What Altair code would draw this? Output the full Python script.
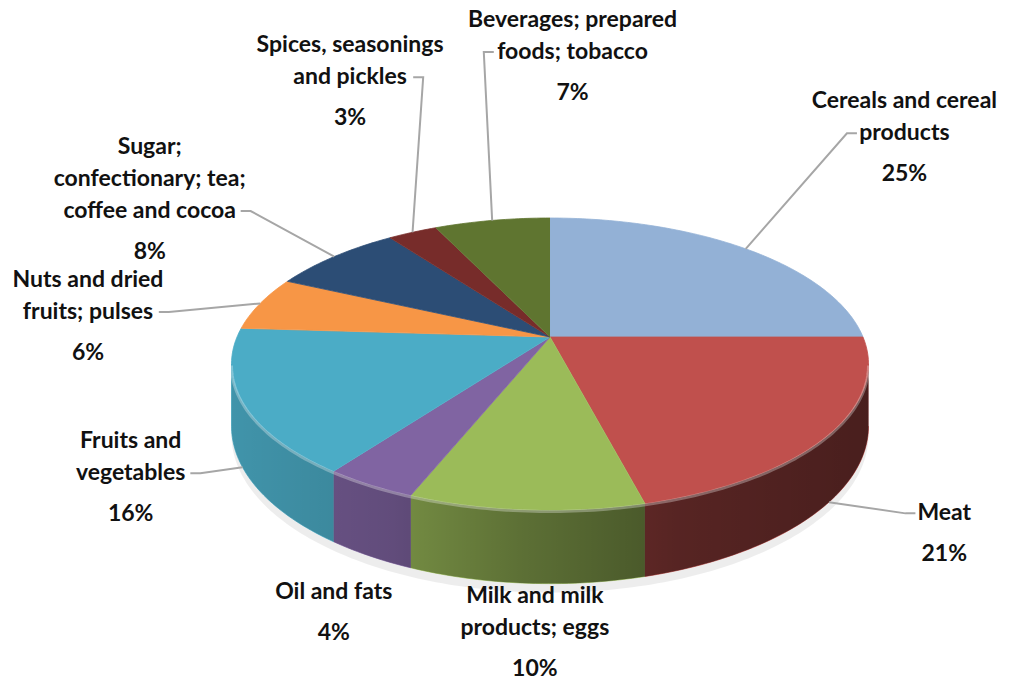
import math
import altair as alt
import pandas as pd

# ---------------- data ----------------
categories = [
    "Cereals and cereal products", "Meat", "Milk and milk products; eggs", "Oil and fats",
    "Fruits and vegetables", "Nuts and dried fruits; pulses",
    "Sugar; confectionary; tea; coffee and cocoa", "Spices, seasonings and pickles",
    "Beverages; prepared foods; tobacco",
]
label_lines = [
    ["Cereals and cereal", "products"], ["Meat"], ["Milk and milk", "products; eggs"],
    ["Oil and fats"], ["Fruits and", "vegetables"], ["Nuts and dried", "fruits; pulses"],
    ["Sugar;", "confectionary; tea;", "coffee and cocoa"], ["Spices, seasonings", "and pickles"],
    ["Beverages; prepared", "foods; tobacco"],
]
shares = [25, 21, 10, 4, 16, 6, 8, 3, 7]
colors = ["#93B1D6", "#C0504D", "#9BBB59", "#8064A2", "#4BACC6", "#F79646",
          "#2C4D75", "#772C2A", "#5F7530"]

# ---------------- layout constants (styles) ----------------
W, H = 1029, 683
CX, CY = 550, 337          # pie centre on screen
RX, RY = 313, 141          # pie radii
K = 0.185                  # perspective strength
D = 60                     # pie thickness
FS = 23                    # label font size
LH, PH = 32, 41            # name line height, gap to percentage line
LCX, LCY, LRX, LRY = 565, 350, 480, 300   # label ellipse

def proj(a, r=1.0):
    u, v = r * math.sin(a), r * math.cos(a)
    den = 1 + K * v
    return CX + RX * u / den, CY - RY * v / den

def proj_bottom(a):
    x, y = proj(a)
    return x, y + D / (1 + K * math.cos(a))

def arc(a0, a1, step_deg=1.0):
    n = max(2, int(math.ceil(abs(a1 - a0) / math.radians(step_deg))))
    return [a0 + (a1 - a0) * i / n for i in range(n + 1)]

total = sum(shares)
starts, ends = [], []
acc = 0.0
for v in shares:
    starts.append(acc / total * 2 * math.pi)
    acc += v
    ends.append(acc / total * 2 * math.pi)
mids = [(s + e) / 2 for s, e in zip(starts, ends)]

A0 = math.acos(-K)
A1 = 2 * math.pi - A0

# top faces
top_rows = []
for c, s, e in zip(categories, starts, ends):
    pts = [(CX, CY)] + [proj(a) for a in arc(s, e)]
    for i, (x, y) in enumerate(pts):
        top_rows.append({"cat": c, "key": c, "idx": i, "x": x, "y": y})
top_df = pd.DataFrame(top_rows)

# sides
side_rows = []
for c, s, e in zip(categories, starts, ends):
    lo, hi = max(s, A0), min(e, A1)
    if hi - lo > 1e-6:
        angs = arc(lo, hi)
        pts = [proj(a) for a in angs] + [proj_bottom(a) for a in reversed(angs)]
        for i, (x, y) in enumerate(pts):
            side_rows.append({"cat": c, "key": c + "_side", "idx": i, "x": x, "y": y})
side_df = pd.DataFrame(side_rows)

# shading band over the sides, rim highlight, and shadow
band_angs = arc(A0, A1)
band_pts = [proj(a) for a in band_angs] + [proj_bottom(a) for a in reversed(band_angs)]
band_df = pd.DataFrame([{"key": "band", "idx": i, "x": x, "y": y} for i, (x, y) in enumerate(band_pts)])
rim_df = pd.DataFrame([{"key": "rim", "idx": i, "x": proj(a)[0], "y": proj(a)[1] + 1.5}
                       for i, a in enumerate(band_angs)])
shadow_pts = [proj_bottom(a) for a in band_angs] + \
             [(proj_bottom(a)[0], proj_bottom(a)[1] + 9) for a in reversed(band_angs)]
shadow_df = pd.DataFrame([{"key": "sh", "idx": i, "x": x, "y": y} for i, (x, y) in enumerate(shadow_pts)])

# ---------------- labels ----------------
def char_w(ch):
    if ch in "ilj;:,.' ftr":
        return 0.30
    if ch in "mwMW":
        return 0.80
    if ch.isupper() or ch == "%":
        return 0.64
    return 0.53

def text_w(s):
    return sum(char_w(ch) for ch in s) * FS

pct_text = [f"{v}%" for v in shares]
text_h = [(len(ls) - 1) * LH + PH for ls in label_lines]
box_w = [max(max(text_w(l) for l in ls), text_w(p)) + 6 for ls, p in zip(label_lines, pct_text)]
box_h = [th + 28 for th in text_h]

def centre(i, ang):
    x = LCX + LRX * math.sin(ang)
    y = LCY - LRY * math.cos(ang)
    x = min(max(x, box_w[i] / 2 + 4), W - box_w[i] / 2 - 4)
    y = min(max(y, text_h[i] / 2 + 20), H - text_h[i] / 2 - 14)
    return x, y

lab_ang = list(mids)
n = len(categories)
step = math.radians(0.5)
for _ in range(800):
    moved = False
    cs = [centre(i, lab_ang[i]) for i in range(n)]
    for i in range(n):
        for j in range(i + 1, n):
            ox = (box_w[i] + box_w[j]) / 2 + 6 - abs(cs[i][0] - cs[j][0])
            oy = (box_h[i] + box_h[j]) / 2 - abs(cs[i][1] - cs[j][1])
            if ox > 0 and oy > 0:
                d = (lab_ang[j] - lab_ang[i]) % (2 * math.pi)
                if d < math.pi:
                    lab_ang[j] += step
                    lab_ang[i] -= step
                else:
                    lab_ang[j] -= step
                    lab_ang[i] += step
                moved = True
    if not moved:
        break

text_rows, leader_rows = [], []
for i, c in enumerate(categories):
    lx, ly = centre(i, lab_ang[i])
    names = label_lines[i]
    y0 = ly - text_h[i] / 2
    ys_lines = [y0 + k * LH for k in range(len(names))]
    for k, l in enumerate(names):
        text_rows.append({"cat": c, "t": l, "x": lx, "y": ys_lines[k]})
    text_rows.append({"cat": c, "t": pct_text[i], "x": lx, "y": ys_lines[-1] + PH})

    m = mids[i]
    ex, ey = proj_bottom(m) if math.cos(m) < -K else proj(m)
    k_near = min(range(len(names)), key=lambda k: abs(ys_lines[k] - ey))
    ty = ys_lines[k_near]
    half = text_w(names[k_near]) / 2
    top, bot = ly - box_h[i] / 2, ly + box_h[i] / 2
    pts = None
    inside = lx - half - 4 <= ex <= lx + half + 4
    if inside and top - 25 < ey < bot + 25:
        pts = None
    elif ex < lx:
        tx = lx - half - 4
        pts = [(ex, ey), (tx - 10, ty), (tx, ty)]
    else:
        tx = lx + half + 4
        pts = [(ex, ey), (tx + 10, ty), (tx, ty)]
    if pts:
        for k, (x, y) in enumerate(pts):
            leader_rows.append({"cat": c, "idx": k, "x": x, "y": y})

text_df = pd.DataFrame(text_rows)
leader_df = pd.DataFrame(leader_rows)

# ---------------- chart ----------------
xs = alt.Scale(domain=[0, W], nice=False, zero=False)
ys = alt.Scale(domain=[0, H], nice=False, zero=False, reverse=True)
cscale = alt.Scale(domain=categories, range=colors)

X = alt.X("x:Q", scale=xs, axis=None)
Y = alt.Y("y:Q", scale=ys, axis=None)

shadow = alt.Chart(shadow_df).mark_line(filled=True, color="#000000", opacity=0.07, strokeWidth=0).encode(
    x=X, y=Y, order=alt.Order("idx:Q"), detail="key:N")

sides = alt.Chart(side_df).mark_line(filled=True, strokeWidth=0.8).encode(
    x=X, y=Y, order=alt.Order("idx:Q"), detail="key:N",
    color=alt.Color("cat:N", scale=cscale, legend=None),
    stroke=alt.Stroke("cat:N", scale=cscale, legend=None))

shade = alt.Chart(band_df).mark_line(
    filled=True, strokeWidth=0,
    fill=alt.Gradient(gradient="linear", x1=0, x2=1, y1=0, y2=0, stops=[
        alt.GradientStop(color="rgba(0,0,0,0.14)", offset=0),
        alt.GradientStop(color="rgba(0,0,0,0.24)", offset=0.25),
        alt.GradientStop(color="rgba(0,0,0,0.40)", offset=0.45),
        alt.GradientStop(color="rgba(0,0,0,0.55)", offset=0.7),
        alt.GradientStop(color="rgba(0,0,0,0.62)", offset=1),
    ])).encode(x=X, y=Y, order=alt.Order("idx:Q"), detail="key:N")

tops = alt.Chart(top_df).mark_line(filled=True, strokeWidth=0.8).encode(
    x=X, y=Y, order=alt.Order("idx:Q"), detail="key:N",
    color=alt.Color("cat:N", scale=cscale, legend=None),
    stroke=alt.Stroke("cat:N", scale=cscale, legend=None))

rim = alt.Chart(rim_df).mark_line(color="#ffffff", opacity=0.3, strokeWidth=3).encode(
    x=X, y=Y, order=alt.Order("idx:Q"), detail="key:N")

leaders = alt.Chart(leader_df).mark_line(color="#a6a6a6", strokeWidth=2).encode(
    x=X, y=Y, order=alt.Order("idx:Q"), detail="cat:N")

texts = alt.Chart(text_df).mark_text(
    font="Lato", fontWeight="bold", fontSize=FS, color="#111111", align="center", baseline="middle"
).encode(x=X, y=Y, text="t:N")

chart = alt.layer(shadow, sides, shade, tops, rim, leaders, texts).properties(
    width=W, height=H, padding=0, autosize="none", background="white"
).configure_view(stroke=None)

chart.save("out.html", embed_options={"renderer": "svg", "actions": False})
